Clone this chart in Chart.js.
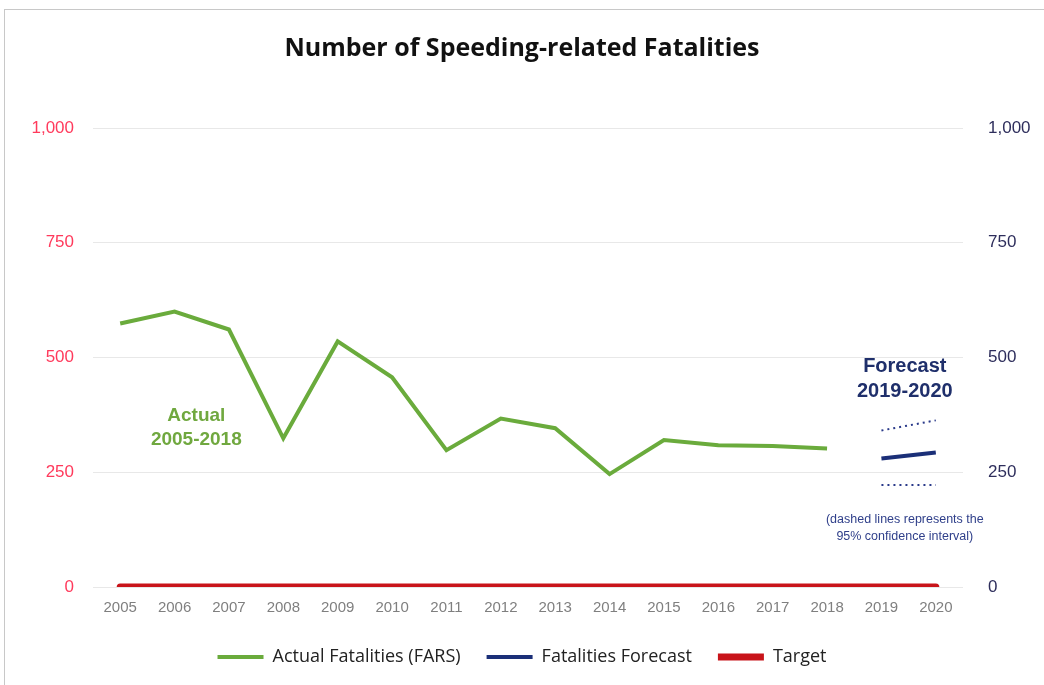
<!DOCTYPE html>
<html>
<head>
<meta charset="utf-8">
<script src="https://cdn.jsdelivr.net/npm/chart.js@4.4.1/dist/chart.umd.min.js"></script>
<style>
  html,body{margin:0;padding:0;background:#fff;}
  #frame{position:absolute;left:4px;top:9px;width:1100px;height:700px;border-top:1px solid #c8c8c8;border-left:1px solid #c8c8c8;}
  #wrap{position:absolute;left:0;top:0;width:1044px;height:685px;}
</style>
</head>
<body>
<div id="frame"></div>
<div id="wrap"><canvas id="c" width="1044" height="685"></canvas></div>
<script>
const years = ['2005','2006','2007','2008','2009','2010','2011','2012','2013','2014','2015','2016','2017','2018','2019','2020'];
const actual = [574, 600, 561, 324, 535, 457, 298, 367, 346, 246, 320, 309, 307, 302, null, null];
const forecast = [null,null,null,null,null,null,null,null,null,null,null,null,null,null, 280, 293];
const ciUpper = [null,null,null,null,null,null,null,null,null,null,null,null,null,null, 341, 363];
const ciLower = [null,null,null,null,null,null,null,null,null,null,null,null,null,null, 222, 222];
const target = [0,0,0,0,0,0,0,0,0,0,0,0,0,0,0,0];
const yTicks = [0, 250, 500, 750, 1000];

const annot = {
  id: 'annot',
  afterDatasetsDraw(chart) {
    const ctx = chart.ctx;
    const x = chart.scales.x, y = chart.scales.y;
    ctx.save();
    ctx.textAlign = 'center';
    ctx.textBaseline = 'middle';
    ctx.fillStyle = '#70a83f';
    ctx.font = 'bold 19px "Liberation Sans", Arial, sans-serif';
    ctx.fillText('Actual', x.getPixelForValue(1.4), y.getPixelForValue(374));
    ctx.fillText('2005-2018', x.getPixelForValue(1.4), y.getPixelForValue(320));
    ctx.fillStyle = '#1f2f6b';
    ctx.font = 'bold 20px "Liberation Sans", Arial, sans-serif';
    ctx.fillText('Forecast', x.getPixelForValue(14.43), y.getPixelForValue(480));
    ctx.fillText('2019-2020', x.getPixelForValue(14.43), y.getPixelForValue(425));
    ctx.fillStyle = '#2f3f8a';
    ctx.font = '12.5px "Liberation Sans", Arial, sans-serif';
    ctx.fillText('(dashed lines represents the', x.getPixelForValue(14.43), y.getPixelForValue(146));
    ctx.fillText('95% confidence interval)', x.getPixelForValue(14.43), y.getPixelForValue(111));
    ctx.restore();
  }
};

new Chart(document.getElementById('c'), {
  type: 'line',
  data: {
    labels: years,
    datasets: [
      { label: 'Actual Fatalities (FARS)', data: actual, borderColor: '#6aab3c', backgroundColor: '#6aab3c', borderWidth: 4, pointRadius: 0, yAxisID: 'y' },
      { label: 'Fatalities Forecast', data: forecast, borderColor: '#1b2f78', backgroundColor: '#1b2f78', borderWidth: 4, pointRadius: 0, yAxisID: 'y' },
      { label: 'Upper CI', data: ciUpper, borderColor: '#2a3a8a', borderWidth: 2, borderDash: [2, 4], pointRadius: 0, yAxisID: 'y' },
      { label: 'Lower CI', data: ciLower, borderColor: '#2a3a8a', borderWidth: 2, borderDash: [2, 4], pointRadius: 0, yAxisID: 'y' },
      { label: 'Target', data: target, borderColor: '#c8141a', backgroundColor: '#c8141a', borderWidth: 7, borderCapStyle: 'round', pointRadius: 0, yAxisID: 'y' }
    ]
  },
  options: {
    responsive: false,
    animation: false,
    layout: { padding: { left: 0, right: 0, top: 14, bottom: 9 } },
    plugins: {
      title: {
        display: true,
        text: 'Number of Speeding-related Fatalities',
        color: '#111',
        font: { family: '"Open Sans", sans-serif', size: 25, weight: 'bold' },
        padding: { top: 20, bottom: 64 }
      },
      legend: {
        position: 'bottom',
        labels: {
          usePointStyle: true,
          pointStyle: 'line',
          pointStyleWidth: 46,
          boxHeight: 10,
          color: '#222',
          padding: 26,
          font: { family: '"Open Sans", sans-serif', size: 18 },
          filter: (item) => item.text !== 'Upper CI' && item.text !== 'Lower CI'
        }
      },
      tooltip: { enabled: false }
    },
    scales: {
      x: {
        offset: true,
        grid: { display: false },
        border: { display: false },
        afterFit: (s) => { s.height = s.height + 1; },
        ticks: { color: '#7f7f7f', font: { family: '"Liberation Sans", Arial, sans-serif', size: 15 }, padding: 4, maxRotation: 0, autoSkip: false }
      },
      y: {
        position: 'left',
        min: 0, max: 1000,
        afterBuildTicks: (s) => { s.ticks = yTicks.map(v => ({ value: v })); },
        afterFit: (s) => { s.width = 93; },
        grid: { color: '#e8e8e8', lineWidth: 1, drawTicks: false },
        border: { display: false },
        ticks: { color: '#ff3a5c', font: { family: '"Liberation Sans", Arial, sans-serif', size: 17 }, padding: 19, callback: (v) => v.toLocaleString('en-US') }
      },
      y2: {
        position: 'right',
        min: 0, max: 1000,
        afterBuildTicks: (s) => { s.ticks = yTicks.map(v => ({ value: v })); },
        afterFit: (s) => { s.width = 81; },
        grid: { display: false, drawTicks: false },
        border: { display: false },
        ticks: { color: '#2e2e5c', font: { family: '"Liberation Sans", Arial, sans-serif', size: 17 }, padding: 25, callback: (v) => v.toLocaleString('en-US') }
      }
    }
  },
  plugins: [annot]
});
</script>
</body>
</html>
